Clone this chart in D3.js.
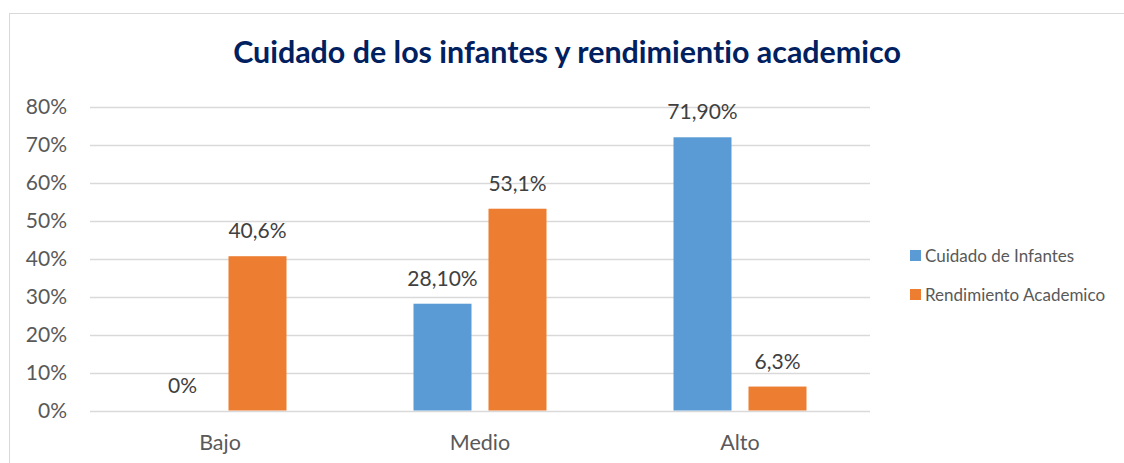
<!DOCTYPE html>
<html><head><meta charset="utf-8">
<script src="https://cdn.jsdelivr.net/npm/d3@7"></script>
<style>html,body{margin:0;padding:0;background:#fff;}svg{display:block;font-family:Lato,"Open Sans",sans-serif;font-variant-ligatures:none;}</style>
</head><body>
<svg id="c" width="1124" height="463"></svg>
<script>
const title = "Cuidado de los infantes y rendimientio academico";
const categories = ["Bajo", "Medio", "Alto"];
const seriesNames = ["Cuidado de Infantes", "Rendimiento Academico"];
const cuidado = [0, 0.281, 0.719];
const rendimiento = [0.406, 0.531, 0.063];
const cuidadoLabels = ["0%", "28,10%", "71,90%"];
const rendimientoLabels = ["40,6%", "53,1%", "6,3%"];
const yTicks = [0, 0.1, 0.2, 0.3, 0.4, 0.5, 0.6, 0.7, 0.8];
const colors = ["#5b9bd5", "#ed7d31"];

const svg = d3.select("#c");
svg.append("rect").attr("x", 9.5).attr("y", 13.5).attr("width", 1130).attr("height", 470)
  .attr("fill", "#fff").attr("stroke", "#d9d9d9").attr("stroke-width", 1);

const x0 = d3.scaleBand().domain(categories).range([90, 870]).padding(0);
const x1 = d3.scaleBand().domain(seriesNames).range([0, x0.bandwidth()])
  .paddingInner(17/75).paddingOuter(0.8467);
const y = d3.scaleLinear().domain([0, 0.8]).range([410.5, 106.5]);

svg.append("g").selectAll("line").data(yTicks).join("line")
  .attr("x1", 90).attr("x2", 870)
  .attr("y1", d => Math.round(y(d)) + 0.5).attr("y2", d => Math.round(y(d)) + 0.5)
  .attr("stroke", "#d9d9d9").attr("stroke-width", 1.3);

const yAxis = d3.axisLeft(y).tickValues(yTicks).tickSize(0).tickPadding(0)
  .tickFormat(d => Math.round(d * 100) + "%");
const ya = svg.append("g").attr("transform", "translate(67,0)").call(yAxis);
ya.select(".domain").remove();
ya.selectAll("text").attr("fill", "#595959").style("font-size", "21px").style("font-family", "Lato,sans-serif");

const xAxis = d3.axisBottom(x0).tickSize(0).tickPadding(0);
const xa = svg.append("g").attr("transform", "translate(0,435)").call(xAxis);
xa.select(".domain").remove();
xa.selectAll("text").attr("fill", "#595959").style("font-size", "21.5px").style("font-family", "Lato,sans-serif");

const series = [cuidado, rendimiento];
const labels = [cuidadoLabels, rendimientoLabels];
series.forEach((vals, si) => {
  const g = svg.append("g");
  const data = categories.map((c, i) => ({c, v: vals[i], l: labels[si][i]}));
  g.selectAll("rect").data(data).join("rect")
    .attr("x", d => x0(d.c) + x1(seriesNames[si]))
    .attr("width", x1.bandwidth())
    .attr("y", d => y(d.v))
    .attr("height", d => y(0) - y(d.v))
    .attr("fill", colors[si]);
  g.selectAll("text").data(data).join("text")
    .attr("x", d => x0(d.c) + x1(seriesNames[si]) + x1.bandwidth() / 2)
    .attr("y", d => y(d.v) - 18)
    .attr("text-anchor", "middle")
    .attr("fill", "#404040")
    .style("font-size", "21px")
    .text(d => d.l);
});

const t = svg.append("text").attr("x", 567).attr("y", 63).attr("text-anchor", "middle")
  .attr("fill", "#002060").style("font-weight", "bold").style("font-size", "27px").text(title);
const tw = t.node().getComputedTextLength();
t.style("font-size", (27 * 668 / tw).toFixed(2) + "px");

const lg = svg.append("g");
seriesNames.forEach((s, i) => {
  lg.append("rect").attr("x", 910).attr("y", 250 + i * 39).attr("width", 11).attr("height", 11).attr("fill", colors[i]);
  lg.append("text").attr("x", 925).attr("y", 262 + i * 39).attr("fill", "#595959")
    .style("font-size", "17px").text(s);
});
</script>
</body></html>
